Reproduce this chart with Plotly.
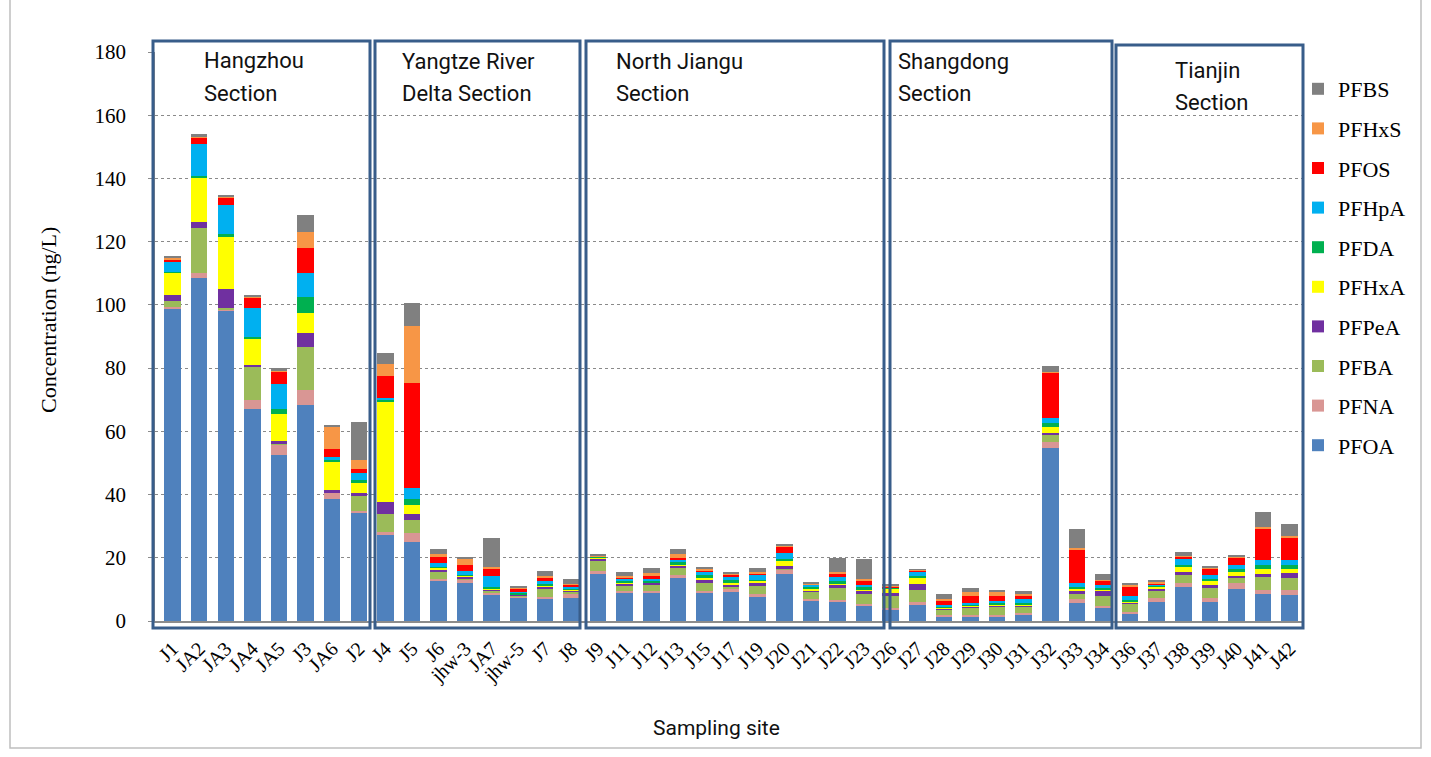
import plotly.graph_objects as go

# Sampling sites along the route, grouped by river section
sites = ["J1", "JA2", "JA3", "JA4", "JA5", "J3", "JA6", "J2",
         "J4", "J5", "J6", "jhw-3", "JA7", "jhw-5", "J7", "J8",
         "J9", "J11", "J12", "J13", "J15", "J17", "J19", "J20", "J21", "J22", "J23",
         "J26", "J27", "J28", "J29", "J30", "J31", "J32", "J33", "J34",
         "J36", "J37", "J38", "J39", "J40", "J41", "J42"]

# Concentrations (ng/L) per compound, one value per site
PFOA = [98.7, 108.4, 98.3, 67.1, 52.6, 68.3, 38.7, 34.2,
        27.4, 25.1, 12.7, 11.9, 8.5, 7.3, 7.2, 7.4,
        15.0, 8.9, 8.9, 13.7, 8.9, 9.3, 7.6, 15.0, 6.3, 6.0, 4.7,
        3.5, 5.3, 1.3, 1.3, 1.4, 1.9, 54.7, 5.7, 4.0,
        2.1, 6.1, 10.8, 6.1, 10.1, 8.7, 8.1]
PFNA = [0.6, 1.7, 0.3, 2.9, 3.2, 4.7, 1.8, 0.7,
        0.6, 2.6, 0.6, 1.1, 0.5, 0.3, 0.5, 1.1,
        0.8, 0.6, 0.6, 0.8, 0.6, 1.1, 0.8, 1.2, 0.8, 0.7, 0.7,
        0.7, 0.6, 0.6, 0.6, 0.5, 0.6, 1.8, 1.3, 0.7,
        0.8, 1.3, 1.2, 1.3, 1.8, 1.1, 1.6]
PFBA = [2.0, 14.3, 0.3, 10.4, 0.3, 13.6, 0.3, 4.5,
        6.0, 4.2, 2.1, 0.5, 0.5, 0.5, 2.6, 0.8,
        3.2, 1.8, 2.1, 2.3, 2.6, 0.2, 2.7, 0.2, 2.1, 3.8, 3.3,
        4.0, 4.0, 1.7, 2.3, 2.7, 2.1, 2.3, 1.6, 3.3,
        2.6, 2.3, 2.8, 3.0, 1.8, 4.0, 4.0]
PFPeA = [1.8, 1.8, 6.0, 0.6, 0.7, 4.6, 0.6, 1.0,
         3.5, 2.1, 0.7, 0.5, 0.4, 0.2, 0.5, 0.4,
         0.5, 0.5, 0.5, 0.8, 0.9, 1.1, 0.9, 1.1, 0.6, 1.1, 0.9,
         0.6, 1.7, 0.4, 0.4, 0.4, 0.4, 0.8, 1.2, 1.8,
         0.5, 0.6, 0.6, 1.1, 0.6, 1.1, 1.5]
PFHxA = [7.0, 14.2, 16.6, 8.5, 8.6, 6.2, 9.0, 3.5,
         31.9, 2.8, 0.7, 0.3, 0.5, 0.2, 0.5, 0.3,
         0.7, 0.5, 0.2, 0.4, 0.8, 0.6, 0.7, 1.6, 0.4, 0.4, 0.4,
         1.5, 2.3, 0.2, 0.2, 0.2, 0.2, 1.8, 0.6, 0.3,
         0.3, 0.5, 1.8, 1.3, 1.1, 1.7, 1.1]
PFDA = [0.3, 0.3, 1.0, 0.3, 1.7, 5.2, 0.8, 0.6,
        0.7, 1.9, 0.4, 0.3, 0.5, 0.5, 0.5, 0.4,
        0.1, 0.5, 0.5, 0.6, 0.6, 0.6, 0.4, 0.6, 0.6, 0.6, 0.6,
        0.2, 0.3, 0.5, 0.5, 0.5, 0.5, 1.1, 0.2, 0.6,
        0.4, 0.5, 0.5, 0.4, 1.1, 1.1, 1.4]
PFHpA = [3.4, 10.3, 9.1, 9.1, 8.0, 7.5, 0.6, 2.3,
         0.3, 3.4, 1.1, 1.1, 3.3, 0.3, 0.7, 0.3,
         0.1, 0.5, 0.5, 0.8, 1.1, 1.1, 1.3, 1.7, 0.6, 1.3, 0.8,
         0.2, 1.4, 0.3, 0.3, 0.7, 1.2, 1.7, 1.5, 0.6,
         1.2, 0.4, 1.8, 1.3, 1.3, 1.5, 1.6]
PFOS = [0.3, 1.9, 2.3, 3.5, 3.8, 7.9, 2.5, 1.2,
        7.2, 33.3, 2.1, 2.1, 2.1, 1.1, 1.4, 0.8,
        0.1, 0.5, 0.8, 0.6, 0.6, 0.8, 0.7, 2.3, 0.3, 1.1, 1.5,
        0.2, 0.3, 1.3, 2.3, 1.5, 1.1, 14.3, 10.5, 1.5,
        2.8, 0.3, 0.8, 2.1, 2.3, 10.0, 6.9]
PFHxS = [0.7, 0.3, 0.3, 0.3, 0.3, 5.2, 7.2, 2.9,
         3.7, 17.8, 0.7, 2.1, 0.7, 0.3, 0.3, 0.3,
         0.2, 0.3, 1.0, 1.1, 0.6, 0.2, 0.3, 0.2, 0.2, 0.6, 0.4,
         0.2, 0.3, 0.7, 1.2, 1.3, 0.8, 0.4, 0.5, 0.3,
         0.7, 0.5, 0.3, 0.2, 0.4, 0.5, 0.7]
PFBS = [0.7, 1.0, 0.3, 0.4, 0.7, 5.1, 0.4, 11.9,
        3.4, 7.4, 1.7, 0.4, 9.2, 0.5, 1.6, 1.6,
        0.3, 1.4, 1.7, 1.7, 0.4, 0.2, 1.3, 0.4, 0.3, 4.2, 6.3,
        0.4, 0.2, 1.4, 1.4, 0.6, 0.6, 1.8, 6.0, 1.7,
        0.6, 0.6, 1.1, 0.6, 0.4, 4.7, 3.8]

compounds = ["PFOA", "PFNA", "PFBA", "PFPeA", "PFHxA",
             "PFDA", "PFHpA", "PFOS", "PFHxS", "PFBS"]
values = [PFOA, PFNA, PFBA, PFPeA, PFHxA, PFDA, PFHpA, PFOS, PFHxS, PFBS]
colors = ["#4F81BD", "#D99694", "#9BBB59", "#7030A0", "#FFFF00",
          "#00B050", "#00B0F0", "#FF0000", "#F79646", "#808080"]

# Section frames: (label lines, left/right/top/bottom in pixels, text x, text y's)
sections = [
    (["Hangzhou", "Section"], 153, 370, 41, 628, 202, [60, 93]),
    (["Yangtze River", "Delta Section"], 375, 580, 41, 628, 400, [62, 93]),
    (["North Jiangu", "Section"], 586, 884, 41, 628, 614, [62, 93]),
    (["Shangdong", "Section"], 890, 1112, 41, 628, 896, [62, 93]),
    (["Tianjin", "Section"], 1116, 1303, 45, 628, 1173, [70, 102]),
]

W, H = 1431, 757
L, R, T, B = 155, 1303, 52, 621


def px(x):
    return (x - L) / (R - L)


def py(y):
    return (B - y) / (B - T)


fig = go.Figure()
n = len(compounds)
for i, (name, vals, col) in enumerate(zip(compounds, values, colors)):
    # stacked bottom-up; legend lists the top of the stack first
    fig.add_trace(go.Bar(x=sites, y=vals, name=name, legendgroup=name,
                         legendrank=n - i,
                         marker=dict(color=col, line=dict(width=0))))

shapes = []
annotations = []
for lines, x0, x1, y0, y1, tx, tys in sections:
    shapes.append(dict(type="rect", xref="paper", yref="paper",
                       x0=px(x0), x1=px(x1), y0=py(y1), y1=py(y0),
                       line=dict(color="#385D8A", width=3), layer="above"))
    for line, ty in zip(lines, tys):
        annotations.append(dict(text=line, xref="paper", yref="paper",
                                x=px(tx), y=py(ty), xanchor="left", yanchor="middle",
                                showarrow=False,
                                font=dict(family="Roboto", size=22, color="#111111")))

# chart-area frame
shapes.append(dict(type="rect", xref="paper", yref="paper",
                   x0=px(10), x1=px(1421), y0=py(748), y1=py(-5),
                   line=dict(color="#BFBFBF", width=1.5), layer="below"))

annotations.append(dict(text="Concentration (ng/L)", xref="paper", yref="paper",
                        x=px(48), y=py(320), xanchor="center", yanchor="middle",
                        textangle=-90, showarrow=False,
                        font=dict(family="Liberation Serif", size=22, color="#000")))
annotations.append(dict(text="Sampling site", xref="paper", yref="paper",
                        x=px(716), y=py(728), xanchor="center", yanchor="middle",
                        showarrow=False,
                        font=dict(family="Roboto", size=21, color="#111111")))

fig.update_layout(
    width=W, height=H,
    margin=dict(l=L, r=W - R, t=T, b=H - B, pad=0),
    paper_bgcolor="white", plot_bgcolor="white",
    barmode="stack", bargap=0.38,
    shapes=shapes, annotations=annotations,
    legend=dict(x=px(1298), y=py(68), xanchor="left", yanchor="top",
                traceorder="grouped", tracegroupgap=8,
                font=dict(family="Liberation Serif", size=22, color="#000"),
                bgcolor="rgba(0,0,0,0)"),
    xaxis=dict(range=[-0.66, 42.5], tickangle=-45, showline=True,
               linecolor="#8C8C8C", linewidth=2, ticks="", showgrid=False,
               tickfont=dict(family="Liberation Serif", size=20, color="#000"),
               ticklabelstandoff=6),
    yaxis=dict(range=[0, 180], dtick=20, showgrid=True, griddash="dot",
               gridcolor="#8A8A8A", gridwidth=1, zeroline=False,
               showline=True, linecolor="#8C8C8C", linewidth=1.5,
               ticks="outside", ticklen=5, tickcolor="#8C8C8C",
               tickfont=dict(family="Liberation Serif", size=21, color="#000"),
               ticklabelstandoff=18),
)

fig.write_html("out.html")
